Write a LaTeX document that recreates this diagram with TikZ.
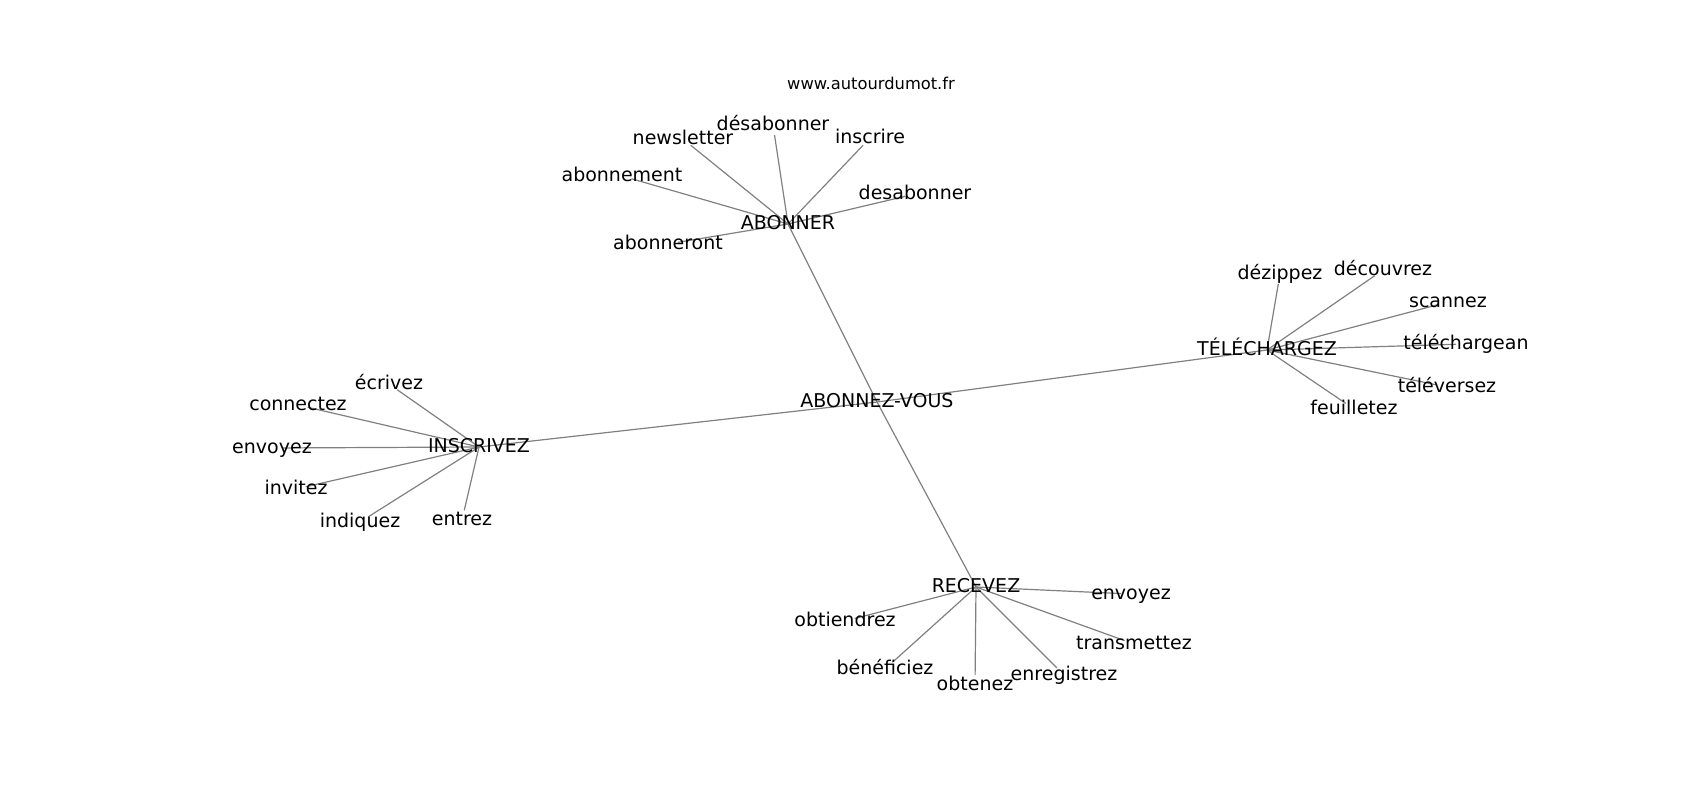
\documentclass[tikz,border=0pt]{standalone}
\usepackage{fontspec}
\setmainfont{DejaVu Sans}
\usetikzlibrary{backgrounds}
\tikzset{
  word/.style={inner sep=0pt,text height=14.4pt,text depth=4pt,font=\fontsize{19pt}{23pt}\selectfont},
  spoke/.style={gray,line width=1.2pt,shorten >=10pt},
  link/.style={gray,line width=1.2pt}
}
\begin{document}
\begin{tikzpicture}[x=1pt,y=-1pt]
\useasboundingbox (0,0) rectangle (1700,800);

\node[inner sep=0pt,font=\fontsize{16.3pt}{20pt}\selectfont] (url) at (871,83) {www.autourdumot.fr};

%hubs
\node[word] (abonnezvous) at (877,402) {ABONNEZ-VOUS};
\node[word] (abonner) at (788,224) {ABONNER};
\node[word] (telechargez) at (1267,350) {TÉLÉCHARGEZ};
\node[word] (inscrivez) at (479,447) {INSCRIVEZ};
\node[word] (recevez) at (976,587) {RECEVEZ};

%abonner
\node[word] (newsletter) at (683,139) {newsletter};
\node[word] (desabonnerA) at (773,125) {désabonner};
\node[word] (inscrire) at (870,138) {inscrire};
\node[word] (abonnement) at (622,176) {abonnement};
\node[word] (desabonner) at (915,194) {desabonner};
\node[word] (abonneront) at (668,244) {abonneront};

%telechargez
\node[word] (dezippez) at (1280,274) {dézippez};
\node[word] (decouvrez) at (1383,270) {découvrez};
\node[word] (scannez) at (1448,302) {scannez};
\node[word] (telechargean) at (1466,344) {téléchargean};
\node[word] (televersez) at (1447,387) {téléversez};
\node[word] (feuilletez) at (1354,409) {feuilletez};

%inscrivez
\node[word] (ecrivez) at (389,384) {écrivez};
\node[word] (connectez) at (298,405) {connectez};
\node[word] (envoyezI) at (272,448) {envoyez};
\node[word] (invitez) at (296,489) {invitez};
\node[word] (indiquez) at (360,522) {indiquez};
\node[word] (entrez) at (462,520) {entrez};

%recevez
\node[word] (envoyezR) at (1131,594) {envoyez};
\node[word] (obtiendrez) at (845,621) {obtiendrez};
\node[word] (transmettez) at (1134,644) {transmettez};
\node[word] (beneficiez) at (885,669) {bénéficiez};
\node[word] (obtenez) at (975,685) {obtenez};
\node[word] (enregistrez) at (1064,675) {enregistrez};

\begin{scope}[on background layer]
%center
\draw[link] (abonnezvous.center) -- (abonner.center);
\draw[link] (abonnezvous.center) -- (telechargez.center);
\draw[link] (abonnezvous.center) -- (inscrivez.center);
\draw[link] (abonnezvous.center) -- (recevez.center);

%abonner
\draw[spoke] (abonner.center) -- (newsletter.center);
\draw[spoke] (abonner.center) -- (desabonnerA.center);
\draw[spoke] (abonner.center) -- (inscrire.center);
\draw[spoke] (abonner.center) -- (abonnement.center);
\draw[spoke] (abonner.center) -- (desabonner.center);
\draw[spoke] (abonner.center) -- (abonneront.center);

%telechargez
\draw[spoke] (telechargez.center) -- (dezippez.center);
\draw[spoke] (telechargez.center) -- (decouvrez.center);
\draw[spoke] (telechargez.center) -- (scannez.center);
\draw[spoke] (telechargez.center) -- (telechargean.center);
\draw[spoke] (telechargez.center) -- (televersez.center);
\draw[spoke] (telechargez.center) -- (feuilletez.center);

%inscrivez
\draw[spoke] (inscrivez.center) -- (ecrivez.center);
\draw[spoke] (inscrivez.center) -- (connectez.center);
\draw[spoke] (inscrivez.center) -- (envoyezI.center);
\draw[spoke] (inscrivez.center) -- (invitez.center);
\draw[spoke] (inscrivez.center) -- (indiquez.center);
\draw[spoke] (inscrivez.center) -- (entrez.center);

%recevez
\draw[spoke] (recevez.center) -- (envoyezR.center);
\draw[spoke] (recevez.center) -- (obtiendrez.center);
\draw[spoke] (recevez.center) -- (transmettez.center);
\draw[spoke] (recevez.center) -- (beneficiez.center);
\draw[spoke] (recevez.center) -- (obtenez.center);
\draw[spoke] (recevez.center) -- (enregistrez.center);
\end{scope}

\end{tikzpicture}
\end{document}
